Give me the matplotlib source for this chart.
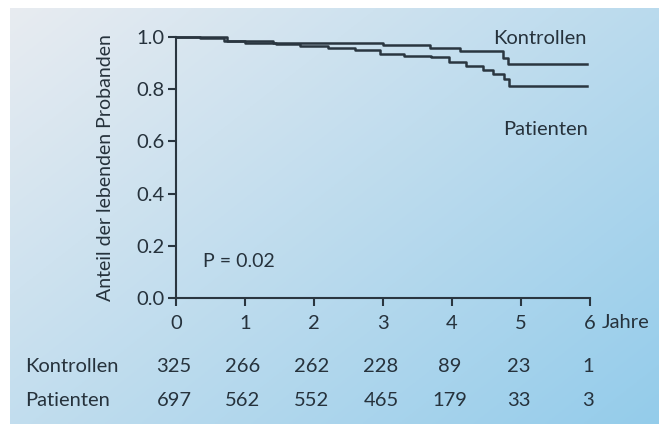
import numpy as np
import matplotlib
matplotlib.use("Agg")
import matplotlib.pyplot as plt

plt.rcParams["font.family"] = ["Lato", "DejaVu Sans"]

# Kaplan-Meier steps
KONTR_T = [0, 0.74, 1.40, 3.00, 3.68, 4.12, 4.74, 4.81, 5.95]
KONTR_S = [1.0, 0.985, 0.976, 0.969, 0.958, 0.948, 0.92, 0.897, 0.897]

PAT_T = [0, 0.35, 0.7, 1.0, 1.45, 1.8, 2.2, 2.6, 2.95, 3.3, 3.7, 3.95,
         4.2, 4.45, 4.6, 4.75, 4.82, 5.95]
PAT_S = [1.0, 0.995, 0.985, 0.978, 0.972, 0.965, 0.958, 0.95, 0.935, 0.928,
         0.922, 0.905, 0.89, 0.875, 0.86, 0.84, 0.812, 0.812]

YEARS = [0, 1, 2, 3, 4, 5, 6]
N_KONTR = [325, 266, 262, 228, 89, 23, 1]
N_PAT = [697, 562, 552, 465, 179, 33, 3]

TXT = "#26323c"
LINE = "#2a3640"

fig = plt.figure(figsize=(6.59, 4.24), dpi=100)
fig.patch.set_facecolor("white")

# gradient panel behind everything
bg = fig.add_axes([10 / 659, 0, 1 - 10 / 659, 1 - 8 / 424], zorder=0)
u, v = np.meshgrid(np.linspace(0, 1, 200), np.linspace(0, 1, 200))
w = np.clip((0.55 * u + 0.45 * v), 0, 1)[..., None]
c0 = np.array([0.91, 0.925, 0.945])
c1 = np.array([0.58, 0.80, 0.92])
bg.imshow(c0 * (1 - w) + c1 * w, aspect="auto", extent=[0, 1, 1, 0])
bg.axis("off")

W, H = 659, 424
ax = fig.add_axes([176 / W, 1 - 298 / H, (590 - 176) / W, (298 - 37) / H], zorder=1)
ax.patch.set_alpha(0)
ax.step(KONTR_T, KONTR_S, where="post", color=LINE, lw=1.8, clip_on=False)
ax.step(PAT_T, PAT_S, where="post", color=LINE, lw=1.8, clip_on=False)

ax.set_xlim(0, 6)
ax.set_ylim(0, 1.0)
ax.set_xticks(YEARS)
ax.set_yticks([0, 0.2, 0.4, 0.6, 0.8, 1.0])
ax.set_yticklabels(["0.0", "0.2", "0.4", "0.6", "0.8", "1.0"])
for side in ["top", "right"]:
    ax.spines[side].set_visible(False)
for side in ["left", "bottom"]:
    ax.spines[side].set_color(LINE)
    ax.spines[side].set_linewidth(1.5)
ax.tick_params(axis="both", colors=LINE, labelcolor=TXT, labelsize=14.5,
               width=1.5, length=6, direction="out")
ax.tick_params(axis="x", pad=6)
ax.tick_params(axis="y", pad=2)

ax.set_ylabel("Anteil der lebenden Probanden", fontsize=14, color=TXT, labelpad=16)

ax.text(5.27, 0.996, "Kontrollen", fontsize=14.5, color=TXT, ha="center", va="center")
ax.text(5.35, 0.644, "Patienten", fontsize=14.5, color=TXT, ha="center", va="center")
ax.text(0.39, 0.138, "P = 0.02", fontsize=14, color=TXT, ha="left", va="center")

fig.text(602 / W, 1 - 322 / H, "Jahre", fontsize=14.5, color=TXT, ha="left", va="center")

# numbers at risk below the axis
fig.text(25 / W, 1 - 367 / H, "Kontrollen", fontsize=14.5, color=TXT, ha="left", va="center")
fig.text(25 / W, 1 - 400 / H, "Patienten", fontsize=14.5, color=TXT, ha="left", va="center")
for yr, nk, npat in zip(YEARS, N_KONTR, N_PAT):
    xf = (174 + yr * 69) / W
    fig.text(xf, 1 - 367 / H, str(nk), fontsize=14.5, color=TXT, ha="center", va="center")
    fig.text(xf, 1 - 400 / H, str(npat), fontsize=14.5, color=TXT, ha="center", va="center")

fig.savefig("out.png", dpi=100)
